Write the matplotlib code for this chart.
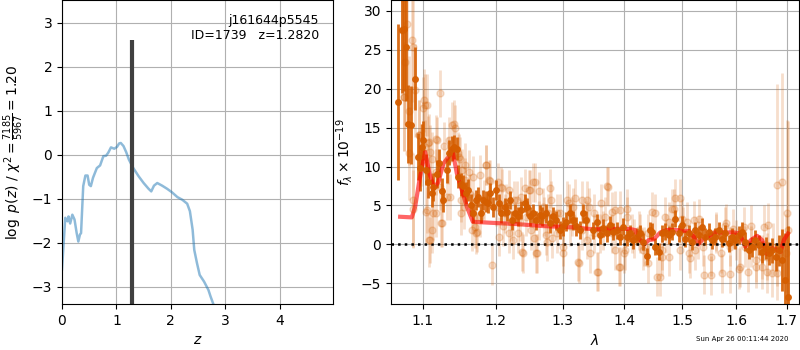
import matplotlib
matplotlib.use('Agg')
import matplotlib.pyplot as plt
from matplotlib.ticker import NullLocator

# ---- left panel: redshift probability ----
z_grid = [0.0, 0.06, 0.10, 0.12, 0.15, 0.19, 0.23, 0.27, 0.30, 0.33, 0.35, 0.39,
          0.43, 0.47, 0.50, 0.53, 0.57, 0.64, 0.70, 0.76, 0.81, 0.85, 0.90, 0.96,
          1.01, 1.05, 1.08, 1.13, 1.18, 1.23, 1.31, 1.41, 1.50, 1.59, 1.64, 1.69,
          1.75, 1.84, 1.93, 2.02, 2.12, 2.21, 2.30, 2.35, 2.40, 2.43, 2.48, 2.53,
          2.61, 2.69, 2.73, 2.78]
log_pz = [-2.6, -1.43, -1.51, -1.40, -1.56, -1.36, -1.47, -1.78, -1.97, -1.81, -1.78, -0.71,
          -0.47, -0.47, -0.68, -0.71, -0.52, -0.30, -0.24, -0.03, -0.02, 0.05, 0.17, 0.14,
          0.18, 0.26, 0.27, 0.20, 0.06, -0.11, -0.30, -0.49, -0.64, -0.77, -0.83, -0.70,
          -0.64, -0.70, -0.77, -0.85, -0.96, -1.02, -1.11, -1.28, -1.70, -2.16, -2.46, -2.73,
          -2.88, -3.07, -3.22, -3.39]
z_best = 1.282
z_peak_top = 2.6

# ---- right panel: spectrum (binned) ----
wave_bin = [1.0683, 1.0727, 1.0757, 1.0779, 1.0812, 1.0843, 1.0899, 1.0942, 1.0966, 1.0986,
            1.1009, 1.1043, 1.1074, 1.1119, 1.1140, 1.1185, 1.1219, 1.1252, 1.1273, 1.1318,
            1.1353, 1.1385, 1.1420, 1.1456, 1.1477, 1.1510, 1.1545, 1.1582, 1.1614, 1.1646,
            1.1683, 1.1716, 1.1753, 1.1786, 1.1823, 1.1861, 1.1893, 1.1927, 1.1964, 1.2012,
            1.2050, 1.2085, 1.2133, 1.2167, 1.2206, 1.2245, 1.2279, 1.2327, 1.2377, 1.2426,
            1.2460, 1.2500, 1.2549, 1.2600, 1.2650, 1.2690, 1.2751, 1.2801, 1.2852, 1.2903,
            1.2954, 1.3005, 1.3058, 1.3110, 1.3162, 1.3215, 1.3268, 1.3321, 1.3374, 1.3490,
            1.3544, 1.3598, 1.3652, 1.3707, 1.3762, 1.3817, 1.3872, 1.3927, 1.3983, 1.4039,
            1.4095, 1.4151, 1.4208, 1.4265, 1.4322, 1.4379, 1.4437, 1.4466, 1.4524, 1.4582,
            1.4640, 1.4699, 1.4758, 1.4817, 1.4876, 1.4936, 1.4996, 1.5056, 1.5116, 1.5177,
            1.5237, 1.5298, 1.5360, 1.5421, 1.5483, 1.5545, 1.5607, 1.5670, 1.5732, 1.5795,
            1.5859, 1.5922, 1.5986, 1.6050, 1.6114, 1.6179, 1.6244, 1.6309, 1.6374, 1.6440,
            1.6506, 1.6572, 1.6638, 1.6705, 1.6772, 1.6839, 1.6907, 1.6954, 1.7022]
flux_bin = [18.3, 27.5, 27.7, 25.4, 15.5, 15.3, 21.3, 11.25, 9.8, 12.5,
            13.4, 9.6, 8.0, 6.6, 7.4, 9.0, 10.5, 6.9, 5.7, 9.5,
            11.8, 12.3, 12.5, 12.3, 8.7, 7.7, 7.5, 6.6, 7.0, 5.1,
            4.0, 5.7, 6.1, 4.0, 5.7, 5.5, 5.3, 6.6, 4.8, 7.0,
            5.3, 4.0, 4.8, 4.2, 5.7, 3.1, 4.0, 3.6, 4.4, 5.3,
            4.8, 3.6, 4.0, 3.1, 3.8, 3.6, 4.0, 2.7, 3.6, 3.1,
            1.85, 2.3, 2.9, 4.0, 3.1, 2.3, 1.85, 4.0, 3.1, 1.8,
            2.85, 1.2, 2.1, 1.4, 2.5, 1.65, 1.8, 1.0, 2.25, 0.9,
            1.4, 0.55, 1.0, 1.4, 0.35, -1.5, 1.8, 1.65, -0.3, -0.95,
            1.4, 1.65, 1.2, 1.65, 3.3, 1.4, 2.5, 0.75, 1.4, 0.35,
            1.8, 1.2, 2.25, 1.0, 1.65, 0.55, 1.0, 1.8, 0.75, 1.4,
            0.13, 1.0, 0.55, 1.2, 1.65, 0.35, -0.74, -0.3, 0.55, -0.1,
            -0.95, -0.5, -1.15, -0.74, -1.6, -0.74, -2.0, -4.6, -6.7]
err_bin = [10.0, 8.0, 8.0, 7.0, 5.0, 5.0, 4.0, 3.0, 3.0, 3.0,
           2.5, 2.0, 2.0, 1.8, 1.8, 1.8, 1.8, 1.6, 1.6, 1.6,
           1.6, 1.6, 1.5, 1.5, 1.5, 1.5, 1.4, 1.4, 1.4, 1.4,
           1.3, 1.3, 1.3, 1.3, 1.3, 1.3, 1.3, 1.3, 1.3, 1.3,
           1.2, 1.2, 1.2, 1.2, 1.2, 1.2, 1.2, 1.2, 1.2, 1.2,
           1.2, 1.2, 1.2, 1.2, 1.2, 1.2, 1.2, 1.2, 1.2, 1.2,
           1.2, 1.2, 1.2, 1.2, 1.2, 1.2, 1.2, 1.2, 1.2, 1.1,
           1.1, 1.1, 1.1, 1.1, 1.1, 1.1, 1.1, 1.1, 1.1, 1.1,
           1.1, 1.1, 1.1, 1.1, 1.1, 1.1, 1.1, 1.1, 1.1, 1.1,
           1.1, 1.1, 1.1, 1.1, 1.1, 1.1, 1.1, 1.1, 1.1, 1.1,
           1.1, 1.1, 1.1, 1.1, 1.1, 1.1, 1.1, 1.1, 1.1, 1.1,
           1.1, 1.1, 1.1, 1.1, 1.2, 1.2, 1.2, 1.3, 1.3, 1.3,
           1.4, 1.4, 1.5, 1.6, 1.8, 2.0, 4.0, 6.0, 9.0]

# ---- right panel: spectrum (unbinned) ----
wave_raw = [1.0725, 1.0800, 1.0856, 1.0878, 1.0768, 1.0754, 1.0825, 1.0816, 1.0900, 1.0878,
            1.0956, 1.1009, 1.1022, 1.1053, 1.0974, 1.1031, 1.1075, 1.1097, 1.1119, 1.1230,
            1.1185, 1.1176, 1.1230, 1.1097, 1.1119, 1.1053, 1.1176, 1.1252, 1.1318, 1.1354,
            1.1385, 1.1416, 1.1430, 1.1340, 1.1475, 1.1507, 1.1534, 1.1566, 1.1520, 1.1552,
            1.1634, 1.1680, 1.1726, 1.1772, 1.1842, 1.1865, 1.1903, 1.1950, 1.2007, 1.2031,
            1.2079, 1.2113, 1.2151, 1.2200, 1.2224, 1.2273, 1.2322, 1.2371, 1.2396, 1.2446,
            1.2486, 1.2521, 1.2546, 1.2597, 1.2638, 1.2699, 1.2751, 1.2777, 1.2829, 1.2908,
            1.2961, 1.3014, 1.3067, 1.3121, 1.3164, 1.3256, 1.3311, 1.3365, 1.3420, 1.3503,
            1.3560, 1.3616, 1.3672, 1.3729, 1.3786, 1.3843, 1.3929, 1.3986, 1.4044, 1.4132,
            1.4250, 1.4339, 1.4399, 1.4521, 1.4600, 1.4643, 1.4705, 1.4768, 1.4862, 1.4957,
            1.5021, 1.5118, 1.5215, 1.5281, 1.5380, 1.5527, 1.5615, 1.5717, 1.5786, 1.5890,
            1.5994, 1.6065, 1.6172, 1.6280, 1.6389, 1.6498, 1.6609, 1.6721, 1.6796, 1.6810,
            1.6900, 1.6985, 1.7008, 1.7020,
            1.0760, 1.1030, 1.0955, 1.1087, 1.1175, 1.1285, 1.1485, 1.1575, 1.1619, 1.1687,
            1.1777, 1.1868, 1.1914, 1.0869, 1.1043, 1.1131, 1.1241, 1.1087, 1.1510, 1.1710,
            1.1665, 1.1732, 1.1370, 1.2054,
            1.2090, 1.2200, 1.2310, 1.2383, 1.2432, 1.2506, 1.2581, 1.2615, 1.2647, 1.2810,
            1.2836, 1.3014, 1.3094, 1.3198, 1.3251, 1.3387, 1.3441, 1.3551, 1.3496, 1.2138,
            1.2257, 1.2357, 1.2557, 1.2713, 1.2763, 1.2918, 1.3146, 1.3306, 1.3387, 1.3600,
            1.3708, 1.3791, 1.3928, 1.4041, 1.3901, 1.4012, 1.4152, 1.4263, 1.4466, 1.4407,
            1.4554, 1.4641, 1.4759, 1.4816, 1.4875, 1.4995, 1.5085, 1.5145, 1.5236, 1.5297,
            1.3651, 1.3846, 1.4319, 1.4700, 1.4966,
            1.5400, 1.5528, 1.5730, 1.5876, 1.6054, 1.6234, 1.6385, 1.6508, 1.6600, 1.6538,
            1.6631, 1.6693, 1.5936, 1.5816, 1.6143, 1.5618, 1.6294]
flux_raw = [27.5, 28.3, 26.3, 25.4, 23.4, 19.0, 17.2, 11.7, 19.8, 5.7,
            14.0, 17.5, 18.5, 17.9, 11.5, 12.5, 13.0, 11.9, 11.0, 19.4,
            13.4, 9.3, 7.4, 0.56, 1.84, 4.4, 4.0, 2.7, 6.1, 13.4,
            15.3, 15.5, 14.9, 10.8, 11.7, 11.0, 9.5, 8.3, 5.7, 4.8,
            6.5, 4.0, 1.4, 3.55, 5.7, 10.2, 8.3, -2.65, 4.8, 8.0,
            7.4, 2.3, 5.3, 1.4, 2.9, 5.7, 1.4, 6.1, -1.15, 3.55,
            7.0, 1.84, 8.0, -1.15, 3.1, 4.8, 1.2, 4.0, 5.7, 1.4,
            4.0, -0.3, 5.7, 2.3, 4.8, -2.44, 5.7, 3.1, 4.8, 1.4,
            -3.5, 5.3, 3.55, 7.4, 1.4, 4.4, -2.87, -1.15, 3.55, 1.4,
            1.84, -0.3, 1.4, 4.0, -4.15, -0.73, 1.4, 2.9, 4.6, 5.9,
            2.3, -1.15, 3.1, 0.56, -0.3, -3.94, 1.4, -1.15, 2.3, -3.8,
            0.56, -2.87, -0.3, 2.3, -2.0, -2.87, -1.6, -0.3, -3.7, 7.6,
            8.0, -1.15, 4.0, 1.8,
            19.0, 17.9, 14.0, 13.2, 13.6, 12.7, 11.2, 10.2, 9.3, 8.7,
            8.9, 10.2, 8.2, 4.6, 4.2, 4.0, 2.7, 0.55, 4.0, 2.2,
            1.8, 1.6, 6.1, 1.0,
            7.2, 7.0, 5.7, -0.94, 7.2, 7.0, 8.0, -1.15, 6.8, 7.2,
            0.77, -1.15, 5.3, 5.9, -2.2, 5.7, -1.15, -3.5, 4.0, 4.0,
            0.56, 2.9, 0.77, 3.55, 0.34, 4.0, 3.55, 1.84, 0.56, 1.4,
            7.5, 4.2, 4.4, 4.6, -2.87, -0.73, 0.77, 1.4, 4.2, -2.44,
            -4.15, -1.6, -1.6, 4.6, 5.9, 3.3, 2.9, -1.8, -0.73, 3.3,
            1.84, -0.73, -0.73, 3.55, -0.73,
            -3.9, -1.6, -3.7, -0.3, -3.1, -3.5, -2.9, -1.6, -3.5, 2.26,
            2.5, -3.7, 2.0, 2.7, 2.26, 1.6, -0.3]
err_raw = [9.0, 9.0, 8.0, 8.0, 8.0, 7.0, 7.0, 6.0, 6.0, 6.0,
           4.5, 4.0, 4.0, 4.0, 4.0, 3.5, 3.5, 3.5, 3.5, 3.0,
           3.0, 3.0, 3.0, 3.0, 3.0, 3.0, 3.0, 3.0, 3.0, 3.0,
           3.0, 3.0, 3.0, 3.0, 2.8, 2.8, 2.8, 2.8, 2.8, 2.8,
           2.6, 2.6, 2.6, 2.6, 2.6, 2.6, 2.6, 2.6, 2.5, 2.5,
           2.5, 2.5, 2.5, 2.5, 2.5, 2.5, 2.5, 2.5, 2.5, 2.5,
           2.5, 2.5, 2.5, 2.5, 2.5, 2.5, 2.5, 2.5, 2.5, 2.5,
           2.5, 2.5, 2.5, 2.5, 2.5, 2.5, 2.5, 2.5, 2.5, 2.5,
           2.5, 2.5, 2.5, 2.5, 2.5, 2.5, 2.5, 2.5, 2.5, 2.5,
           2.5, 2.5, 2.5, 2.5, 2.5, 2.5, 2.5, 2.5, 2.5, 2.5,
           2.5, 2.5, 2.5, 2.5, 2.5, 2.5, 2.5, 2.5, 2.5, 2.5,
           2.6, 2.6, 2.6, 2.7, 2.8, 2.8, 3.0, 3.0, 3.5, 13.0,
           14.0, 5.0, 12.0, 14.0,
           7.0, 4.0, 4.5, 3.5, 3.0, 3.0, 3.0, 2.8, 2.8, 2.7,
           2.6, 2.6, 2.6, 5.0, 4.0, 3.5, 3.0, 3.5, 2.8, 2.6,
           2.6, 2.6, 3.0, 2.5,
           2.5, 2.5, 2.5, 2.5, 2.5, 2.5, 2.5, 2.5, 2.5, 2.5,
           2.5, 2.5, 2.5, 2.5, 2.5, 2.5, 2.5, 2.5, 2.5, 2.5,
           2.5, 2.5, 2.5, 2.5, 2.5, 2.5, 2.5, 2.5, 2.5, 2.5,
           2.5, 2.5, 2.5, 2.5, 2.5, 2.5, 2.5, 2.5, 2.5, 2.5,
           2.5, 2.5, 2.5, 2.5, 2.5, 2.5, 2.5, 2.5, 2.5, 2.5,
           2.5, 2.5, 2.5, 2.5, 2.5,
           2.5, 2.5, 2.5, 2.5, 2.6, 2.6, 2.7, 2.8, 2.8, 2.8,
           2.8, 3.0, 2.5, 2.5, 2.6, 2.5, 2.6]

# ---- best-fit model ----
wave_model = [1.0706, 1.0856, 1.0900, 1.0956, 1.1031, 1.1088, 1.1150, 1.1208, 1.1275, 1.1343,
              1.1397, 1.1457, 1.1525, 1.1595, 1.1678, 1.1923, 1.2309, 1.2708, 1.3225, 1.3331,
              1.3547, 1.3984, 1.4124, 1.4181, 1.4238, 1.4335, 1.4410, 1.4497, 1.4614, 1.4733,
              1.4912, 1.5124, 1.5217, 1.5291, 1.5373, 1.5467, 1.5594, 1.5950, 1.6066, 1.6176,
              1.6285, 1.6407, 1.6506, 1.6605, 1.6705, 1.6805, 1.6873, 1.6940, 1.7022]
flux_model = [3.55, 3.47, 4.84, 8.26, 11.9, 9.11, 7.19, 8.04, 10.4, 11.25,
              12.1, 9.11, 6.97, 4.84, 2.91, 2.78, 2.61, 2.35, 2.18, 2.05,
              1.93, 2.01, 1.93, 1.84, 0.77, 0.0, 0.56, 0.64, 1.54, 1.84,
              1.84, 1.71, 0.90, 0.0, 0.64, 0.98, 1.54, 1.54, 1.41, -0.3,
              0.56, 1.1, 0.55, -1.24, -0.5, -0.7, -0.95, 0.55, 1.4]

wave_ticks = [1.1, 1.2, 1.3, 1.4, 1.5, 1.6, 1.7]

spec_color = '#d55e00'

fig = plt.figure(figsize=(8, 3.5), dpi=100)
ax1 = fig.add_axes([0.0775, 0.1314, 0.3388, 0.8686])
ax2 = fig.add_axes([0.4888, 0.1314, 0.5100, 0.8686])

# left: p(z)
ax1.plot(z_grid, log_pz, color='tab:blue', alpha=0.5, lw=1.8)
ax1.vlines(z_best, -3.39, z_peak_top, color='0.25', lw=3)
ax1.set_xlim(0, 4.98)
ax1.set_ylim(-3.39, 3.52)
ax1.set_xticks([0, 1, 2, 3, 4])
ax1.set_yticks([-3, -2, -1, 0, 1, 2, 3])
ax1.grid()
ax1.set_xlabel(r'$z$')
ax1.set_ylabel(r'$\log\ p(z)$' + ' / ' + r'$\chi^2=\frac{7185}{5967}=1.20$')
ax1.text(0.948, 0.955, 'j161644p5545\nID=1739   z=1.2820', transform=ax1.transAxes,
         ha='right', va='top', fontsize=9)

# right: spectrum
ax2.errorbar(wave_raw, flux_raw, err_raw, color=spec_color, marker='o', ms=5,
             linestyle='None', alpha=0.2, elinewidth=2)
ax2.errorbar(wave_bin, flux_bin, err_bin, color=spec_color, marker='o', ms=4,
             linestyle='None', alpha=0.9, elinewidth=2)
ax2.plot(wave_model, flux_model, color='red', alpha=0.6, lw=3)
ax2.axhline(0, color='k', linestyle=':', lw=1.8)
ax2.set_xscale('log')
ax2.set_xlim(1.059, 1.725)
ax2.set_ylim(-7.66, 31.4)
ax2.set_xticks(wave_ticks)
ax2.set_xticklabels(['%.1f' % w for w in wave_ticks])
ax2.xaxis.set_minor_locator(NullLocator())
ax2.set_yticks([-5, 0, 5, 10, 15, 20, 25, 30])
ax2.grid()
ax2.set_xlabel(r'$\lambda$')
ax2.set_ylabel(r'$f_\lambda\times10^{-19}$')

fig.text(0.87, 0.03, 'Sun Apr 26 00:11:44 2020', fontsize=5, va='center')

fig.savefig('out.png', dpi=100)
